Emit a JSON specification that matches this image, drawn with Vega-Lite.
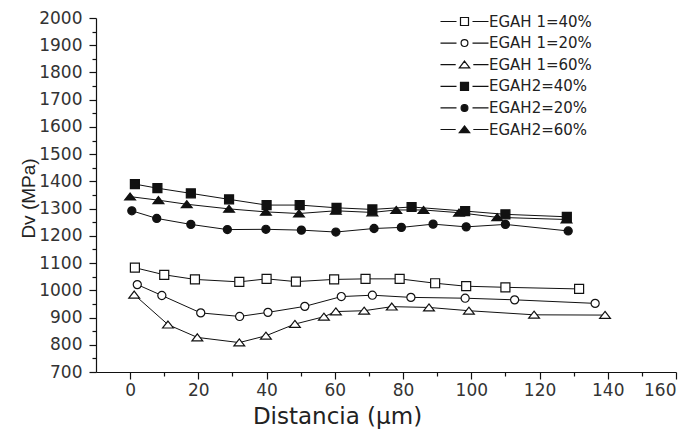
{
  "$schema": "https://vega.github.io/schema/vega-lite/v6.json",
  "autosize": "none",
  "width": 580,
  "height": 354,
  "padding": {"left": 96, "top": 18, "right": 15, "bottom": 58},
  "background": "white",
  "config": {
    "view": {"stroke": null},
    "axis": {
      "grid": false,
      "domainColor": "#111",
      "domainWidth": 1.2,
      "tickColor": "#111",
      "tickWidth": 1.2,
      "labelFont": "DejaVu Sans",
      "labelFontSize": 17,
      "labelColor": "#333",
      "titleColor": "#222",
      "titleFontWeight": "normal"
    },
    "legend": {
      "title": null,
      "orient": "none", "legendX": 361, "legendY": -4,
      "padding": 0, "rowPadding": 5.6,
      "symbolSize": 64, "symbolStrokeWidth": 1.2,
      "labelFont": "DejaVu Sans", "labelFontSize": 15, "labelColor": "#222", "labelOffset": 17
    }
  },
  "datasets": {
    "dv": [
      {"series": "EGAH 1=40%", "d": 1.4, "dv": 1083},
      {"series": "EGAH 1=40%", "d": 10, "dv": 1057},
      {"series": "EGAH 1=40%", "d": 19, "dv": 1040},
      {"series": "EGAH 1=40%", "d": 32, "dv": 1031},
      {"series": "EGAH 1=40%", "d": 40, "dv": 1042},
      {"series": "EGAH 1=40%", "d": 48.6, "dv": 1032},
      {"series": "EGAH 1=40%", "d": 59.8, "dv": 1040},
      {"series": "EGAH 1=40%", "d": 69, "dv": 1042},
      {"series": "EGAH 1=40%", "d": 79, "dv": 1042},
      {"series": "EGAH 1=40%", "d": 89.4, "dv": 1026},
      {"series": "EGAH 1=40%", "d": 98.5, "dv": 1015},
      {"series": "EGAH 1=40%", "d": 110, "dv": 1011},
      {"series": "EGAH 1=40%", "d": 131.6, "dv": 1005},

      {"series": "EGAH 1=20%", "d": 2.1, "dv": 1021},
      {"series": "EGAH 1=20%", "d": 9.3, "dv": 981},
      {"series": "EGAH 1=20%", "d": 20.7, "dv": 917},
      {"series": "EGAH 1=20%", "d": 32.1, "dv": 904},
      {"series": "EGAH 1=20%", "d": 40.4, "dv": 919},
      {"series": "EGAH 1=20%", "d": 51.2, "dv": 941},
      {"series": "EGAH 1=20%", "d": 61.9, "dv": 977},
      {"series": "EGAH 1=20%", "d": 71, "dv": 982},
      {"series": "EGAH 1=20%", "d": 82.3, "dv": 974},
      {"series": "EGAH 1=20%", "d": 98.2, "dv": 971},
      {"series": "EGAH 1=20%", "d": 112.7, "dv": 965},
      {"series": "EGAH 1=20%", "d": 136.3, "dv": 952},

      {"series": "EGAH 1=60%", "d": 1.2, "dv": 984},
      {"series": "EGAH 1=60%", "d": 11.1, "dv": 874},
      {"series": "EGAH 1=60%", "d": 19.7, "dv": 827},
      {"series": "EGAH 1=60%", "d": 32, "dv": 808},
      {"series": "EGAH 1=60%", "d": 39.8, "dv": 833},
      {"series": "EGAH 1=60%", "d": 48.3, "dv": 876},
      {"series": "EGAH 1=60%", "d": 56.8, "dv": 903},
      {"series": "EGAH 1=60%", "d": 60.3, "dv": 922},
      {"series": "EGAH 1=60%", "d": 68.6, "dv": 925},
      {"series": "EGAH 1=60%", "d": 76.7, "dv": 940},
      {"series": "EGAH 1=60%", "d": 87.6, "dv": 937},
      {"series": "EGAH 1=60%", "d": 99.3, "dv": 925},
      {"series": "EGAH 1=60%", "d": 118.4, "dv": 910},
      {"series": "EGAH 1=60%", "d": 139.2, "dv": 909},

      {"series": "EGAH2=40%", "d": 1.4, "dv": 1390},
      {"series": "EGAH2=40%", "d": 8, "dv": 1375},
      {"series": "EGAH2=40%", "d": 17.8, "dv": 1356},
      {"series": "EGAH2=40%", "d": 29, "dv": 1334},
      {"series": "EGAH2=40%", "d": 40, "dv": 1313},
      {"series": "EGAH2=40%", "d": 49.7, "dv": 1313},
      {"series": "EGAH2=40%", "d": 60.5, "dv": 1303},
      {"series": "EGAH2=40%", "d": 71, "dv": 1297},
      {"series": "EGAH2=40%", "d": 82.5, "dv": 1306},
      {"series": "EGAH2=40%", "d": 98.2, "dv": 1291},
      {"series": "EGAH2=40%", "d": 110, "dv": 1279},
      {"series": "EGAH2=40%", "d": 128, "dv": 1270},

      {"series": "EGAH2=20%", "d": 0.5, "dv": 1292},
      {"series": "EGAH2=20%", "d": 7.8, "dv": 1264},
      {"series": "EGAH2=20%", "d": 17.8, "dv": 1242},
      {"series": "EGAH2=20%", "d": 28.5, "dv": 1223},
      {"series": "EGAH2=20%", "d": 39.8, "dv": 1224},
      {"series": "EGAH2=20%", "d": 50.2, "dv": 1221},
      {"series": "EGAH2=20%", "d": 60.3, "dv": 1214},
      {"series": "EGAH2=20%", "d": 71.5, "dv": 1227},
      {"series": "EGAH2=20%", "d": 79.5, "dv": 1231},
      {"series": "EGAH2=20%", "d": 88.8, "dv": 1243},
      {"series": "EGAH2=20%", "d": 98.5, "dv": 1233},
      {"series": "EGAH2=20%", "d": 110, "dv": 1242},
      {"series": "EGAH2=20%", "d": 128.4, "dv": 1218},

      {"series": "EGAH2=60%", "d": 0, "dv": 1344},
      {"series": "EGAH2=60%", "d": 8.3, "dv": 1331},
      {"series": "EGAH2=60%", "d": 16.6, "dv": 1316},
      {"series": "EGAH2=60%", "d": 29, "dv": 1299},
      {"series": "EGAH2=60%", "d": 39.8, "dv": 1288},
      {"series": "EGAH2=60%", "d": 49.5, "dv": 1282},
      {"series": "EGAH2=60%", "d": 60.3, "dv": 1292},
      {"series": "EGAH2=60%", "d": 71, "dv": 1286},
      {"series": "EGAH2=60%", "d": 78, "dv": 1295},
      {"series": "EGAH2=60%", "d": 86, "dv": 1295},
      {"series": "EGAH2=60%", "d": 96.4, "dv": 1285},
      {"series": "EGAH2=60%", "d": 107.6, "dv": 1268},
      {"series": "EGAH2=60%", "d": 127.9, "dv": 1260}
    ]
  },
  "data": {"name": "dv"},
  "resolve": {
    "axis": {"x": "independent", "y": "independent"},
    "scale": {"shape": "independent", "fill": "independent", "stroke": "independent"},
    "legend": {"shape": "independent", "fill": "independent", "stroke": "independent"}
  },
  "layer": [
    {
      "mark": {"type": "line", "color": "#111", "strokeWidth": 1},
      "encoding": {
        "x": {
          "field": "d", "type": "quantitative",
          "scale": {"domain": [-10, 160], "nice": false, "zero": false},
          "axis": {
            "orient": "bottom", "title": null, "labels": false, "domain": false,
            "values": [10, 30, 50, 70, 90, 110, 130, 150], "tickSize": 4
          }
        },
        "y": {
          "field": "dv", "type": "quantitative",
          "scale": {"domain": [700, 2000], "nice": false, "zero": false},
          "axis": {
            "orient": "left", "title": null, "labels": false, "domain": false,
            "values": [750, 850, 950, 1050, 1150, 1250, 1350, 1450, 1550, 1650, 1750, 1850, 1950],
            "tickSize": 4
          }
        },
        "detail": {"field": "series"},
        "order": {"field": "d"}
      }
    },
    {
      "mark": {"type": "point", "filled": true, "size": 81, "stroke": "#111", "strokeWidth": 1.2, "opacity": 1},
      "encoding": {
        "x": {
          "field": "d", "type": "quantitative",
          "axis": {
            "orient": "bottom", "title": "Distancia (µm)",
            "values": [0, 20, 40, 60, 80, 100, 120, 140, 160],
            "tickSize": 7, "labelPadding": 3,
            "titleFont": "DejaVu Sans", "titleFontSize": 23,
            "titleX": 241, "titleY": 51, "titleAlign": "center", "titleBaseline": "alphabetic"
          }
        },
        "y": {
          "field": "dv", "type": "quantitative",
          "axis": {
            "orient": "left", "title": "Dv (MPa)", "format": "d",
            "values": [700, 800, 900, 1000, 1100, 1200, 1300, 1400, 1500, 1600, 1700, 1800, 1900, 2000],
            "tickSize": 7, "labelPadding": 7,
            "titleFont": "Liberation Sans", "titleFontSize": 19,
            "titleAngle": 270, "titleX": -62, "titleY": 180,
            "titleAlign": "center", "titleBaseline": "alphabetic"
          }
        },
        "shape": {
          "field": "series", "type": "nominal",
          "scale": {
            "domain": ["EGAH 1=40%", "EGAH 1=20%", "EGAH 1=60%", "EGAH2=40%", "EGAH2=20%", "EGAH2=60%"],
            "range": [
              "M-1,-1H1V1H-1Z",
              "M-0.9,0A0.9,0.9 0 1,1 0.9,0A0.9,0.9 0 1,1 -0.9,0Z",
              "M0,-0.8L1.2,0.75H-1.2Z",
              "M-1,-1H1V1H-1Z",
              "M-0.9,0A0.9,0.9 0 1,1 0.9,0A0.9,0.9 0 1,1 -0.9,0Z",
              "M0,-0.8L1.2,0.75H-1.2Z"
            ]
          },
          "legend": null
        },
        "fill": {
          "field": "series", "type": "nominal",
          "scale": {
            "domain": ["EGAH 1=40%", "EGAH 1=20%", "EGAH 1=60%", "EGAH2=40%", "EGAH2=20%", "EGAH2=60%"],
            "range": ["white", "white", "white", "#111", "#111", "#111"]
          },
          "legend": null
        }
      }
    },
    {
      "transform": [{"filter": "datum.d < -100"}],
      "mark": {"type": "point", "filled": true, "size": 64, "strokeWidth": 1.2, "opacity": 1},
      "encoding": {
        "shape": {
          "field": "series", "type": "nominal",
          "scale": {
            "domain": ["EGAH 1=40%", "EGAH 1=20%", "EGAH 1=60%", "EGAH2=40%", "EGAH2=20%", "EGAH2=60%"],
            "range": [
              "M-6,0H-2M2,0H6M-1,-1H1V1H-1Z",
              "M-6,0H-2M2,0H6M-0.85,0A0.85,0.85 0 1,1 0.85,0A0.85,0.85 0 1,1 -0.85,0Z",
              "M-6,0H-2.2M2.2,0H6M0,-0.9L1.3,0.8H-1.3Z",
              "M-6,0H-2M2,0H6M-1,-1H1V1H-1Z",
              "M-6,0H-2M2,0H6M-0.85,0A0.85,0.85 0 1,1 0.85,0A0.85,0.85 0 1,1 -0.85,0Z",
              "M-6,0H-2.2M2.2,0H6M0,-0.9L1.3,0.8H-1.3Z"
            ]
          },
          "legend": {}
        },
        "fill": {
          "field": "series", "type": "nominal",
          "scale": {
            "domain": ["EGAH 1=40%", "EGAH 1=20%", "EGAH 1=60%", "EGAH2=40%", "EGAH2=20%", "EGAH2=60%"],
            "range": ["white", "white", "white", "#111", "#111", "#111"]
          },
          "legend": {}
        },
        "stroke": {
          "field": "series", "type": "nominal",
          "scale": {
            "domain": ["EGAH 1=40%", "EGAH 1=20%", "EGAH 1=60%", "EGAH2=40%", "EGAH2=20%", "EGAH2=60%"],
            "range": ["#111", "#111", "#111", "#111", "#111", "#111"]
          },
          "legend": {}
        }
      }
    }
  ]
}
